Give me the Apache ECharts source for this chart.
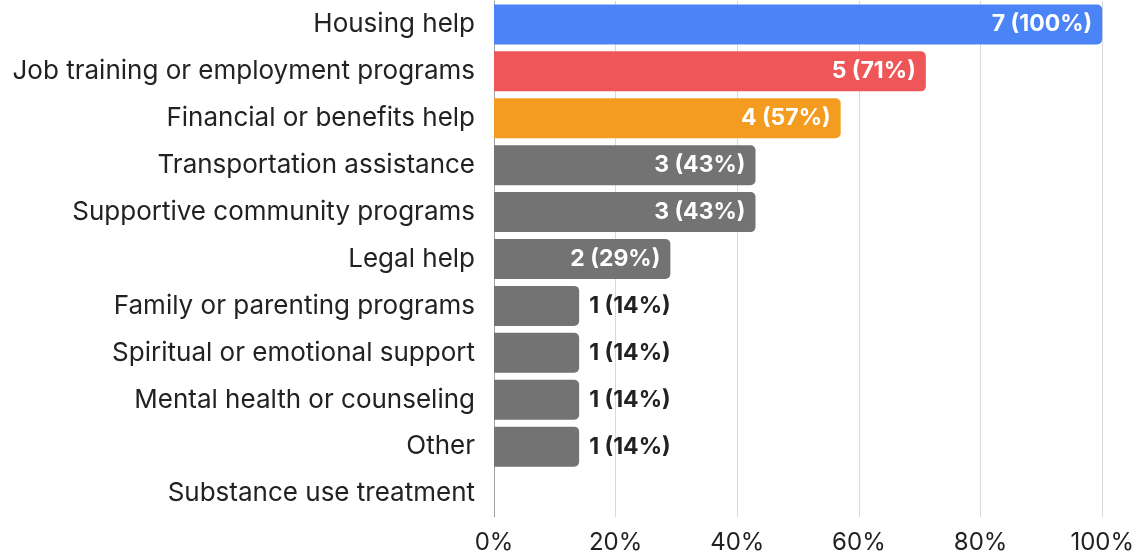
<!DOCTYPE html>
<html>
<head>
<meta charset="utf-8">
<script src="https://cdn.jsdelivr.net/npm/echarts@6/dist/echarts.min.js"></script>
<style>
	html, body { margin: 0; padding: 0; background: #fff; }
	#chart { width: 1137px; height: 555px; }
</style>
</head>
<body>
<div id="chart"></div>
<script>
// services asked for, top to bottom
const categories = [
	'Housing help',
	'Job training or employment programs',
	'Financial or benefits help',
	'Transportation assistance',
	'Supportive community programs',
	'Legal help',
	'Family or parenting programs',
	'Spiritual or emotional support',
	'Mental health or counseling',
	'Other',
	'Substance use treatment',
];
const counts = [7, 5, 4, 3, 3, 2, 1, 1, 1, 1, 0];
const percents = [100, 71, 57, 43, 43, 29, 14, 14, 14, 14, 0];
const barColors = ['#4a84f6', '#ef5658', '#f39c1f', '#737373', '#737373', '#737373', '#737373', '#737373', '#737373', '#737373', '#737373'];
const xTicks = [0, 20, 40, 60, 80, 100];

const FONT = 'Inter';
const chart = echarts.init(document.getElementById('chart'));

const data = percents.map((p, i) => {
	const inside = p >= 25;
	return {
		value: p,
		itemStyle: { color: barColors[i] },
		label: {
			show: counts[i] > 0,
			position: inside ? 'insideRight' : 'right',
			color: inside ? '#fff' : '#222',
			distance: 10,
		},
	};
});

chart.setOption({
	backgroundColor: '#fff',
	animation: false,
	grid: { left: 494, right: 34, top: 1, bottom: 37, containLabel: false },
	xAxis: {
		type: 'value',
		min: xTicks[0],
		max: xTicks[xTicks.length - 1],
		interval: 20,
		axisLine: { show: false },
		axisTick: { show: false },
		splitLine: { lineStyle: { color: '#d9d9d9', width: 1 } },
		axisLabel: {
			formatter: '{value}%',
			color: '#222',
			fontFamily: FONT,
			fontSize: 24,
			margin: 14,
		},
	},
	yAxis: {
		type: 'category',
		inverse: true,
		data: categories,
		axisLine: { show: true, lineStyle: { color: '#a0a0a0' } },
		axisTick: { show: false },
		axisLabel: {
			color: '#222',
			fontFamily: FONT,
			fontSize: 26,
			margin: 19,
			padding: [4, 0, 0, 0],
		},
	},
	series: [
		{
			type: 'bar',
			barWidth: 40,
			itemStyle: { borderRadius: [0, 5, 5, 0] },
			label: {
				fontFamily: FONT,
				fontSize: 23,
				fontWeight: 'bold',
				formatter: (p) => `${counts[p.dataIndex]} (${percents[p.dataIndex]}%)`,
			},
			data,
		},
	],
});
</script>
</body>
</html>
